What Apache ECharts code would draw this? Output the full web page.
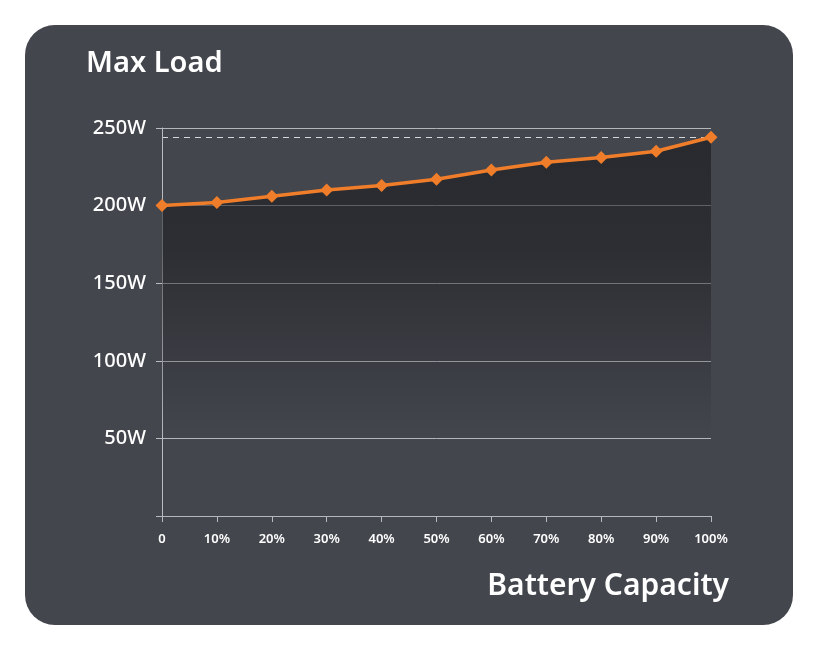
<!DOCTYPE html>
<html>
<head>
    <meta charset="utf-8">
    <title>Max Load</title>
    <style>
        html, body { margin: 0; padding: 0; background: #ffffff; }
    </style>
    <script src="https://cdn.jsdelivr.net/npm/echarts@6/dist/echarts.min.js"></script>
</head>
<body>
<div id="main" style="width: 818px;height:650px;"></div>
<script type="text/javascript">
    // battery capacity steps and max load (W)
    var capacityLabels = ['0', '10%', '20%', '30%', '40%', '50%', '60%', '70%', '80%', '90%', '100%'];
    var maxLoad = [200, 202, 206, 210, 213, 217, 223, 228, 231, 235, 244];
    var peakLoad = 244;

    var myChart = echarts.init(document.getElementById('main'));

    var option = {
        backgroundColor: '#ffffff',
        graphic: [{
            type: 'rect',
            z: -10,
            shape: {x: 25, y: 25, width: 768, height: 600, r: 30},
            style: {fill: '#43464d'}
        }],
        title: [{
            text: 'Max Load',
            left: 81,
            top: 44,
            textStyle: {color: '#ffffff', fontSize: 29, fontWeight: 600, fontFamily: 'Noto Sans'}
        }, {
            text: 'Battery Capacity',
            right: 84,
            top: 566,
            textStyle: {color: '#ffffff', fontSize: 30, fontWeight: 600, fontFamily: 'Noto Sans'}
        }],
        grid: {left: 162, right: 107, top: 128, bottom: 134},
        xAxis: {
            type: 'category',
            data: capacityLabels,
            boundaryGap: false,
            axisLine: {lineStyle: {color: '#b9bbbf', width: 1}},
            axisTick: {show: true, length: 6, lineStyle: {color: '#b9bbbf'}},
            axisLabel: {color: '#ffffff', fontSize: 13, fontWeight: 600, margin: 17, fontFamily: 'Noto Sans'},
            splitLine: {show: false}
        },
        yAxis: {
            type: 'value',
            min: 0,
            max: 250,
            interval: 50,
            z: 5,
            axisLine: {show: true, lineStyle: {color: '#b9bbbf', width: 1}},
            axisTick: {show: true, length: 6, lineStyle: {color: '#b9bbbf'}},
            axisLabel: {
                color: '#ffffff',
                fontSize: 20,
                fontWeight: 500,
                margin: 16,
                fontFamily: 'Noto Sans',
                formatter: function (v) { return v === 0 ? '' : v + 'W'; }
            },
            splitLine: {show: true, lineStyle: {color: '#b4b6ba', width: 1}}
        },
        series: [{
            type: 'line',
            data: maxLoad,
            symbol: 'diamond',
            symbolSize: 13,
            lineStyle: {color: '#f07d2a', width: 3.5},
            itemStyle: {color: '#f07d2a'},
            z: 6,
            areaStyle: {
                color: {
                    type: 'linear', x: 0, y: 0, x2: 0, y2: 1,
                    colorStops: [
                        {offset: 0, color: 'rgba(22,23,26,0.85)'},
                        {offset: 0.3, color: 'rgba(22,23,26,0.72)'},
                        {offset: 0.8, color: 'rgba(22,23,26,0)'},
                        {offset: 1, color: 'rgba(22,23,26,0)'}
                    ]
                }
            },
            markLine: {
                silent: true,
                symbol: 'none',
                label: {show: false},
                lineStyle: {color: '#d6d7da', type: [6, 5], width: 1},
                data: [{yAxis: peakLoad}]
            }
        }]
    };
    myChart.setOption(option);
</script>
</body>
</html>
